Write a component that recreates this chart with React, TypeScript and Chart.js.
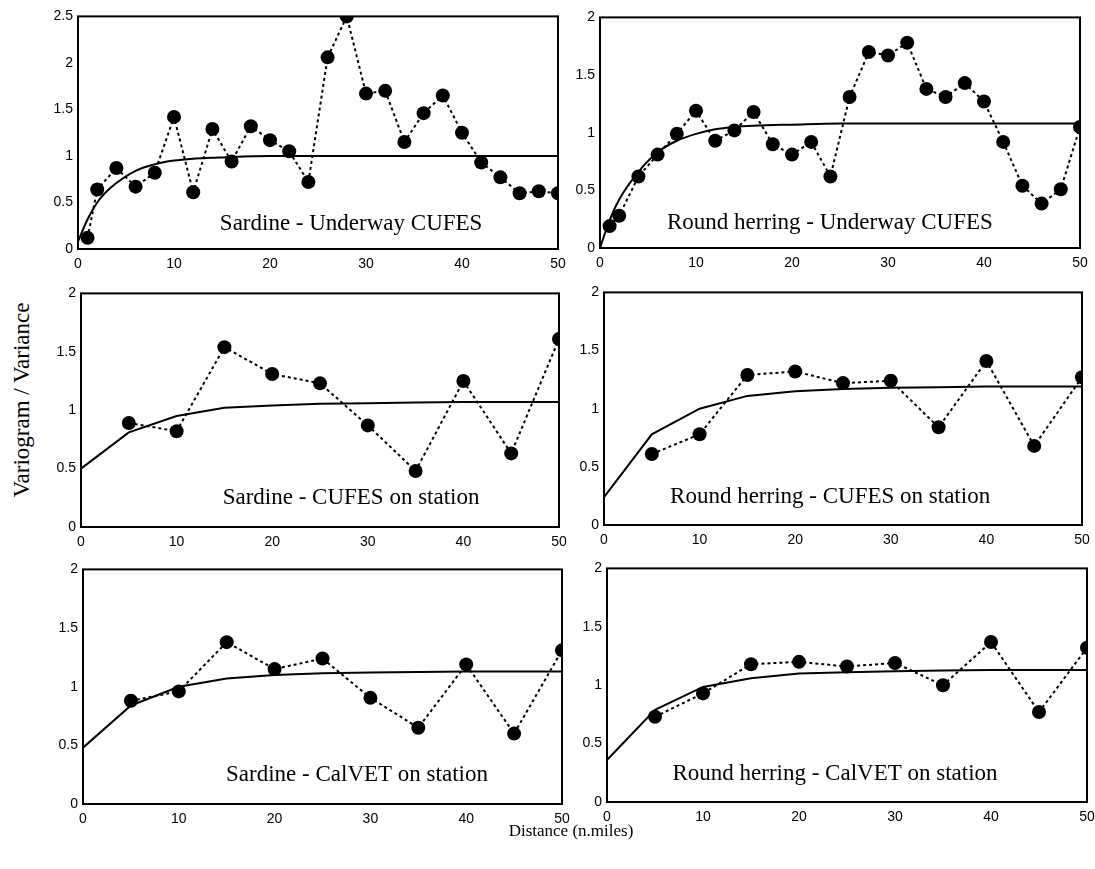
import React, { useEffect, useRef } from "react";
import { Chart, registerables } from "chart.js";

Chart.register(...registerables);

// ---------- data ----------
const underwayLag = [1, 2, 4, 6, 8, 10, 12, 14, 16, 18, 20, 22, 24, 26, 28, 30, 32, 34, 36, 38, 40, 42, 44, 46, 48, 50];
const sardineUnderwayVar = [0.12, 0.64, 0.87, 0.67, 0.82, 1.42, 0.61, 1.29, 0.94, 1.32, 1.17, 1.05, 0.72, 2.06, 2.5, 1.67, 1.7, 1.15, 1.46, 1.65, 1.25, 0.93, 0.77, 0.6, 0.62, 0.6];
const sardineUnderwayFitLag = [0, 1, 2, 3, 4, 6, 8, 10, 12, 14, 16, 20, 25, 30, 40, 50];
const sardineUnderwayFit = [0.08, 0.32, 0.5, 0.62, 0.71, 0.84, 0.91, 0.95, 0.97, 0.98, 0.99, 1.0, 1.0, 1.0, 1.0, 1.0];

const roundUnderwayVar = [0.19, 0.28, 0.62, 0.81, 0.99, 1.19, 0.93, 1.02, 1.18, 0.9, 0.81, 0.92, 0.62, 1.31, 1.7, 1.67, 1.78, 1.38, 1.31, 1.43, 1.27, 0.92, 0.54, 0.385, 0.51, 1.05];
const roundUnderwayFitLag = [0, 1, 2, 4, 6, 8, 10, 12, 14, 16, 20, 25, 30, 40, 50];
const roundUnderwayFit = [0, 0.24, 0.42, 0.66, 0.83, 0.93, 0.99, 1.03, 1.05, 1.06, 1.07, 1.08, 1.08, 1.08, 1.08];

const stationLag = [5, 10, 15, 20, 25, 30, 35, 40, 45, 50];
const modelLag = [0, 5, 10, 15, 20, 25, 30, 35, 40, 45, 50];

const sardineCufesStation = [0.89, 0.82, 1.54, 1.31, 1.23, 0.87, 0.48, 1.25, 0.63, 1.61];
const sardineCufesStationFit = [0.5, 0.81, 0.95, 1.02, 1.04, 1.055, 1.06, 1.065, 1.07, 1.07, 1.07];

const roundCufesStation = [0.61, 0.78, 1.29, 1.32, 1.22, 1.24, 0.84, 1.41, 0.68, 1.27];
const roundCufesStationFit = [0.24, 0.78, 1.0, 1.11, 1.15, 1.17, 1.18, 1.185, 1.19, 1.19, 1.19];

const sardineCalvet = [0.88, 0.96, 1.38, 1.15, 1.24, 0.905, 0.65, 1.19, 0.6, 1.31];
const sardineCalvetFit = [0.48, 0.84, 1.0, 1.07, 1.1, 1.115, 1.12, 1.125, 1.13, 1.13, 1.13];

const roundCalvet = [0.73, 0.93, 1.18, 1.2, 1.16, 1.19, 1.0, 1.37, 0.77, 1.32];
const roundCalvetFit = [0.36, 0.79, 0.985, 1.06, 1.1, 1.11, 1.12, 1.125, 1.13, 1.13, 1.13];

const panelTitles = [
  "Sardine - Underway CUFES",
  "Round herring - Underway CUFES",
  "Sardine - CUFES on station",
  "Round herring - CUFES on station",
  "Sardine - CalVET on station",
  "Round herring - CalVET on station",
];

const xTitle = "Distance (n.miles)";
const yTitle = "Variogram / Variance";

// ---------- layout / style ----------
const YW = 42;
const XH = 30;
const PADT = 12;
const PADR = 18;

const TICK_FONT = { family: "'Liberation Sans', Arial, Helvetica, sans-serif", size: 14 };

type PanelCfg = {
  title: string;
  lag: number[];
  vals: number[];
  fitLag: number[];
  fit: number[];
  yMax: number;
  smooth: boolean;
  rect: { l: number; t: number; r: number; b: number };
  cx: number;
  dy: number;
};

const panels: PanelCfg[] = [
  { title: panelTitles[0], lag: underwayLag, vals: sardineUnderwayVar, fitLag: sardineUnderwayFitLag, fit: sardineUnderwayFit, yMax: 2.5, smooth: true, rect: { l: 78, t: 15, r: 558, b: 249 }, cx: 0.569, dy: 19 },
  { title: panelTitles[1], lag: underwayLag, vals: roundUnderwayVar, fitLag: roundUnderwayFitLag, fit: roundUnderwayFit, yMax: 2, smooth: true, rect: { l: 600, t: 16, r: 1080, b: 248 }, cx: 0.479, dy: 19 },
  { title: panelTitles[2], lag: stationLag, vals: sardineCufesStation, fitLag: modelLag, fit: sardineCufesStationFit, yMax: 2, smooth: false, rect: { l: 81, t: 292, r: 559, b: 527 }, cx: 0.565, dy: 23 },
  { title: panelTitles[3], lag: stationLag, vals: roundCufesStation, fitLag: modelLag, fit: roundCufesStationFit, yMax: 2, smooth: false, rect: { l: 604, t: 291, r: 1082, b: 525 }, cx: 0.473, dy: 22 },
  { title: panelTitles[4], lag: stationLag, vals: sardineCalvet, fitLag: modelLag, fit: sardineCalvetFit, yMax: 2, smooth: false, rect: { l: 83, t: 568, r: 562, b: 804 }, cx: 0.572, dy: 23 },
  { title: panelTitles[5], lag: stationLag, vals: roundCalvet, fitLag: modelLag, fit: roundCalvetFit, yMax: 2, smooth: false, rect: { l: 607, t: 567, r: 1087, b: 802 }, cx: 0.475, dy: 22 },
];

const framePlugin = {
  id: "frame",
  afterDatasetsDraw(chart: any) {
    const { ctx, chartArea: a } = chart;
    ctx.save();
    ctx.strokeStyle = "#000";
    ctx.lineWidth = 2;
    ctx.strokeRect(a.left, a.top, a.right - a.left, a.bottom - a.top);
    ctx.restore();
  },
};

const labelPlugin = {
  id: "panelLabel",
  afterDraw(chart: any, _args: any, opts: any) {
    const { ctx, chartArea: a } = chart;
    ctx.save();
    ctx.font = "23px 'Liberation Serif', 'Times New Roman', serif";
    ctx.fillStyle = "#000";
    ctx.textAlign = "center";
    ctx.textBaseline = "alphabetic";
    ctx.fillText(opts.text, a.left + (a.right - a.left) * opts.cx, a.bottom - opts.dy);
    ctx.restore();
  },
};

function Panel({ cfg }: { cfg: PanelCfg }) {
  const ref = useRef<HTMLCanvasElement | null>(null);
  const { l, t, r, b } = cfg.rect;
  const width = r - l + YW + PADR;
  const height = b - t + PADT + XH;

  useEffect(() => {
    if (!ref.current) return;
    const chart = new Chart(ref.current, {
      type: "line",
      data: {
        datasets: [
          {
            data: cfg.fitLag.map((x, i) => ({ x, y: cfg.fit[i] })),
            borderColor: "#000",
            borderWidth: 2,
            pointRadius: 0,
            tension: 0,
            cubicInterpolationMode: cfg.smooth ? "monotone" : "default",
            clip: 0,
          } as any,
          {
            data: cfg.lag.map((x, i) => ({ x, y: cfg.vals[i] })),
            borderColor: "#000",
            borderWidth: 2,
            borderDash: [3, 3],
            pointRadius: 7,
            pointBackgroundColor: "#000",
            pointBorderColor: "#000",
            pointBorderWidth: 0,
            tension: 0,
            clip: 0,
          } as any,
        ],
      },
      options: {
        animation: false,
        responsive: false,
        events: [],
        layout: { padding: { top: PADT, right: PADR, left: 0, bottom: 0 } },
        plugins: {
          legend: { display: false },
          tooltip: { enabled: false },
          panelLabel: { text: cfg.title, cx: cfg.cx, dy: cfg.dy },
        } as any,
        scales: {
          x: {
            type: "linear",
            min: 0,
            max: 50,
            ticks: { stepSize: 10, color: "#000", font: TICK_FONT, padding: 7, maxRotation: 0, callback: (v: any) => String(Number(v)) },
            grid: { display: false, drawTicks: false },
            border: { display: false },
            afterFit: (s: any) => {
              s.height = XH;
            },
          },
          y: {
            type: "linear",
            min: 0,
            max: cfg.yMax,
            ticks: { stepSize: 0.5, color: "#000", font: TICK_FONT, padding: 5, callback: (v: any) => String(Number(v)) },
            grid: { display: false, drawTicks: false },
            border: { display: false },
            afterFit: (s: any) => {
              s.width = YW;
            },
          },
        },
      },
      plugins: [framePlugin, labelPlugin],
    });
    return () => chart.destroy();
  }, []);

  return (
    <canvas
      ref={ref}
      width={width}
      height={height}
      style={{ position: "absolute", left: l - YW, top: t - PADT, width, height }}
    />
  );
}

export default function App() {
  return (
    <div style={{ position: "absolute", left: 0, top: 0, width: 1095, height: 869, background: "#fff", overflow: "hidden" }}>
      {panels.map((p, i) => (
        <Panel key={i} cfg={p} />
      ))}
      <div
        style={{
          position: "absolute",
          left: 22,
          top: 400,
          transform: "translate(-50%, -50%) rotate(-90deg)",
          whiteSpace: "nowrap",
          fontFamily: "'Liberation Serif', 'Times New Roman', serif",
          fontSize: 23,
          color: "#000",
        }}
      >
        {yTitle}
      </div>
      <div
        style={{
          position: "absolute",
          left: 571,
          top: 831,
          transform: "translate(-50%, -50%)",
          whiteSpace: "nowrap",
          fontFamily: "'Liberation Serif', 'Times New Roman', serif",
          fontSize: 17,
          color: "#000",
        }}
      >
        {xTitle}
      </div>
    </div>
  );
}
